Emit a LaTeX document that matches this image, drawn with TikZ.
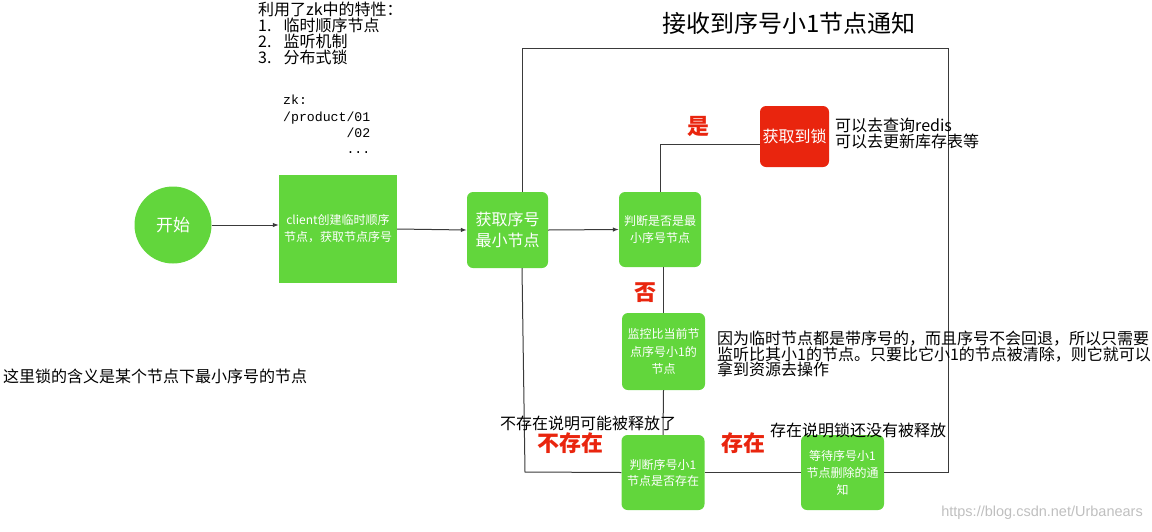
\documentclass[tikz,border=0pt]{standalone}
\usepackage{fontspec}
\setmainfont{Noto Sans CJK SC}
\newfontfamily\codefont{Liberation Mono}
\newfontfamily\markfont{Liberation Sans}
\usetikzlibrary{arrows.meta}
\definecolor{nodegreen}{HTML}{62D63C}
\definecolor{lockred}{HTML}{E9250E}
\definecolor{linegray}{HTML}{3A3A3A}
\tikzset{
  greenbox/.style={fill=nodegreen, draw=none, rounded corners=6pt, text=white, align=center, inner sep=0pt},
  notetext/.style={font=\fontsize{16}{16}\selectfont, align=left, inner sep=0pt, anchor=north west},
  redword/.style={text=lockred, font=\fontsize{22}{22}\selectfont\bfseries, inner sep=0pt},
  flowline/.style={draw=linegray, line width=1pt},
  flowarrow/.style={flowline, -{Latex[length=6pt,width=4.5pt]}},
}
\begin{document}
\begin{tikzpicture}[x=1pt, y=-1pt]
\useasboundingbox (0,0) rectangle (1152,531);

% 流程节点
\node[greenbox, circle, minimum size=77pt, font=\fontsize{17}{17}\selectfont] (start) at (173,225) {开始};
\node[greenbox, sharp corners, minimum width=118pt, minimum height=108pt, font=\fontsize{12}{17}\selectfont] (client) at (338,229) {client创建临时顺序\\节点，获取节点序号};
\node[greenbox, minimum width=81pt, minimum height=76pt, font=\fontsize{16}{21.5}\selectfont] (getmin) at (507.5,230) {获取序号\\最小节点};
\node[greenbox, minimum width=82pt, minimum height=75pt, font=\fontsize{12}{16.5}\selectfont] (judge) at (660,229.5) {判断是否是最\\小序号节点};
\node[greenbox, fill=lockred, minimum width=69pt, minimum height=61pt, font=\fontsize{16}{16}\selectfont] (lock) at (794.5,136.5) {获取到锁};
\node[greenbox, minimum width=83pt, minimum height=77pt, font=\fontsize{12}{17.5}\selectfont] (watch) at (663.5,351.5) {监控比当前节\\点序号小1的\\节点};
\node[greenbox, minimum width=83pt, minimum height=75pt, font=\fontsize{12}{16}\selectfont] (check) at (663,472.5) {判断序号小1\\节点是否存在};
\node[greenbox, minimum width=83pt, minimum height=75pt, font=\fontsize{12}{17}\selectfont] (waitnote) at (842.5,472.5) {等待序号小1\\节点删除的通\\知};

% 连线
\draw[flowarrow] (start.east) -- (start.east -| client.west);
\draw[flowarrow] (client.east) -- (getmin.west);
\draw[flowarrow] (getmin.east) -- (judge.west);
\draw[flowline] (judge.north) |- ([yshift=-7.5pt]lock.west);
\draw[flowline] (watch.north |- judge.south) -- (watch.north);
\draw[flowline] (watch.south) -- (check.north);
\draw[flowline] (check.east) -- (waitnote.west);

% 回到获取最小节点的大框
\coordinate (loopNW) at (522,48);
\coordinate (loopNE) at (948,48);
\coordinate (loopSW) at (525,472);
\draw[flowline] (getmin.north -| loopNW) -- (loopNW) -- (loopNE) |- (waitnote.east);
\draw[flowline] (getmin.south -| loopNW) -- (loopSW) -- (check.west);

% 判断结果
\node[redword] (yes) at (698,126) {是};
\node[redword] (no) at (645,293) {否};
\node[redword] (absent) at (570,443) {不存在};
\node[redword] (present) at (743,443) {存在};

% 标题和说明文字
\node[font=\fontsize{24}{24}\selectfont, inner sep=0pt] (title) at (789,23) {接收到序号小1节点通知};
\node[notetext] (features) at (258,2) {利用了zk中的特性：\\1.\hspace{0.75em}临时顺序节点\\2.\hspace{0.75em}监听机制\\3.\hspace{0.75em}分布式锁};
\node[notetext, font=\codefont\fontsize{13.2}{16.3}\selectfont] (zkpath) at (283,95) {zk:\\/product/01\\\phantom{/product}/02\\\phantom{/product}...};
\node[notetext] (lockmeaning) at (3,369) {这里锁的含义是某个节点下最小序号的节点};
\node[notetext] (lockuse) at (835,118) {可以去查询redis\\可以去更新库存表等};
\node[notetext, font=\fontsize{16}{15.5}\selectfont] (watchwhy) at (717,331) {因为临时节点都是带序号的，而且序号不会回退，所以只需要\\监听比其小1的节点。只要比它小1的节点被清除，则它就可以\\拿到资源去操作};
\node[notetext] (released) at (500,416) {不存在说明可能被释放了};
\node[notetext] (notreleased) at (770,423) {存在说明锁还没有被释放};
\node[font=\markfont\fontsize{14.5}{14.5}\selectfont, text=black!25, inner sep=0pt, anchor=east] (mark) at (1143,513) {https://blog.csdn.net/Urbanears};
\end{tikzpicture}
\end{document}
